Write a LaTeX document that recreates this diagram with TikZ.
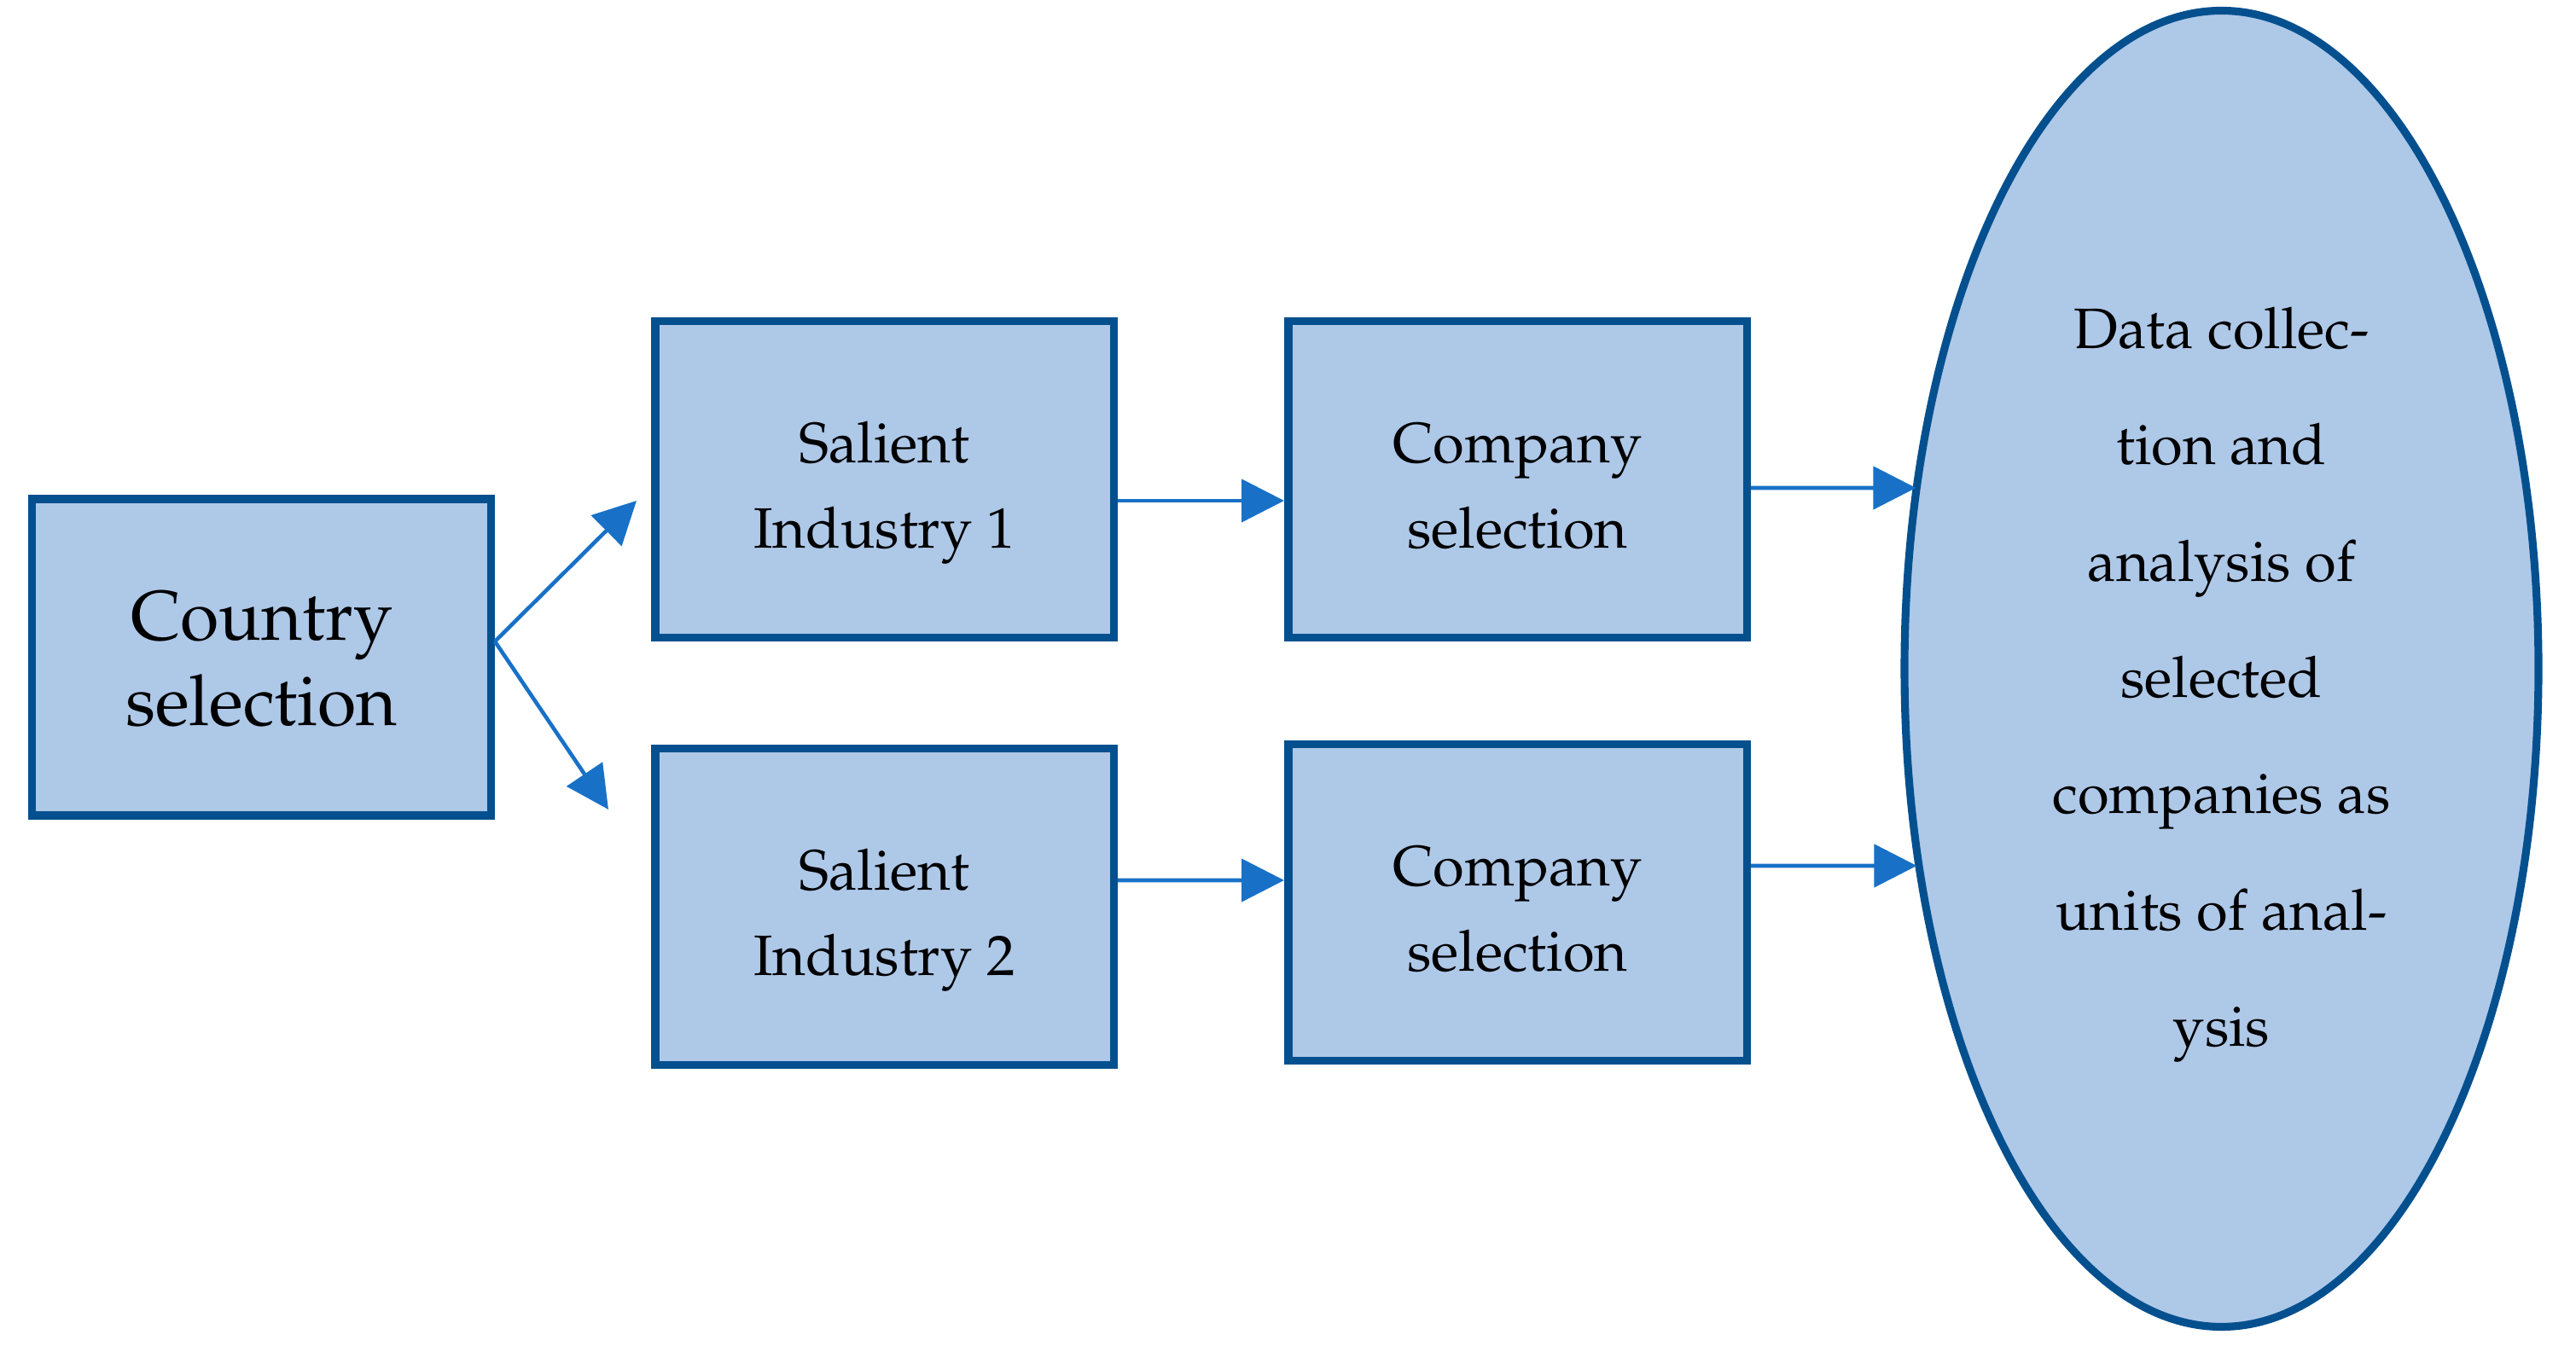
\documentclass[tikz,border=0pt]{standalone}
\usepackage[T1]{fontenc}
\usepackage{mathpazo}
\usetikzlibrary{arrows.meta,calc,shapes.geometric}
\definecolor{boxfill}{RGB}{174,200,232}
\definecolor{boxline}{RGB}{4,80,143}
\definecolor{arrline}{RGB}{24,113,199}
\newcommand{\boxlines}[2]{\raisebox{-#1}[0pt][0pt]{\begin{tabular}{@{}c@{}}#2\end{tabular}}}
\begin{document}
\begin{tikzpicture}[
  box/.style={draw=boxline, fill=boxfill, line width=2.7pt, minimum width=5.375cm, minimum height=3.71cm, font=\fontsize{19}{28.5}\selectfont},
  arr/.style={draw=arrline, line width=1.3pt, -{Triangle[length=5mm,width=5mm]}}]
\useasboundingbox (0,0) rectangle (30.19,15.85);
\node[box, font=\fontsize{23.5}{28.5}\selectfont] (country) at (3.065,8.145) {\boxlines{3.1mm}{Country\\selection}};
\node[box] (sal1) at (10.365,10.23) {\boxlines{2.7mm}{Salient\\Industry 1}};
\node[box] (sal2) at (10.365,5.22) {\boxlines{2.7mm}{Salient\\Industry 2}};
\node[box] (comp1) at (17.785,10.23) {\boxlines{2.7mm}{Company\\selection}};
\node[box] (comp2) at (17.785,5.27) {\boxlines{2.7mm}{Company\\selection}};
\node[ellipse, draw=boxline, fill=boxfill, line width=2.6pt, minimum width=7.43cm, minimum height=15.43cm, inner sep=0pt, font=\fontsize{19}{38.8}\selectfont] (data) at (26.035,8.01) {\boxlines{2.3mm}{Data collec-\\tion and\\analysis of\\selected\\companies as\\units of anal-\\ysis}};
\draw[arr] ([yshift=1.85mm]country.east) -- ([xshift=-1.7mm,yshift=-2.5mm]sal1.west);
\draw[arr] ([yshift=1.85mm]country.east) -- ([xshift=-5mm,yshift=11.4mm]sal2.west);
\draw[arr] ([yshift=-2.5mm]sal1.east) -- ([yshift=-2.5mm]comp1.west);
\draw[arr] ([yshift=3.1mm]sal2.east) -- ([yshift=2.6mm]comp2.west);
\draw[arr] ([yshift=-1mm]comp1.east) -- ($(comp1.east -| data.west)+(0.18,-0.1)$);
\draw[arr] ([yshift=4.3mm]comp2.east) -- ($(comp2.east -| data.west)+(0.19,0.43)$);
\end{tikzpicture}
\end{document}
